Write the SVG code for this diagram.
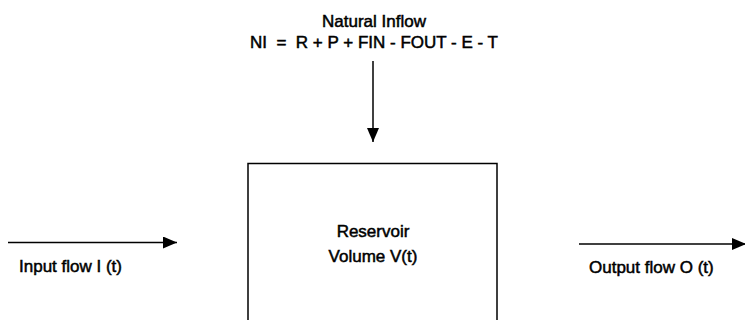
<svg xmlns="http://www.w3.org/2000/svg" width="745" height="320" viewBox="0 0 745 320">
<style>
text{font-family:"Liberation Sans",Arial,sans-serif;font-size:17px;fill:#000;stroke:#000;stroke-width:0.5}
.c{text-anchor:middle}
.ln{stroke:#000;stroke-width:1.5;fill:none}
</style>
<defs>
<marker id="ah" markerWidth="14" markerHeight="12" refX="14" refY="6" orient="auto" markerUnits="userSpaceOnUse">
<path d="M0,0 L14,6 L0,12 Z" fill="#000"/>
</marker>
</defs>
<rect width="745" height="320" fill="#fff"/>
<g id="natural-inflow">
<text class="c" x="374" y="27">Natural Inflow</text>
<text class="c" x="374" y="48" xml:space="preserve">NI  =  R + P + FIN - FOUT - E - T</text>
</g>
<g id="reservoir">
<path class="ln" d="M248,321 V163.5 H497 V321"/>
<text class="c" x="373" y="237">Reservoir</text>
<text class="c" x="373" y="262">Volume V(t)</text>
</g>
<g id="input">
<text x="19" y="272">Input flow I (t)</text>
</g>
<g id="output">
<text x="589" y="273">Output flow O (t)</text>
</g>
<g id="connectors">
<line class="ln" x1="373" y1="61" x2="373" y2="142" marker-end="url(#ah)"/>
<line class="ln" x1="8" y1="242.5" x2="177" y2="242.5" marker-end="url(#ah)"/>
<line class="ln" x1="579" y1="244" x2="746" y2="244" marker-end="url(#ah)"/>
</g>
</svg>
